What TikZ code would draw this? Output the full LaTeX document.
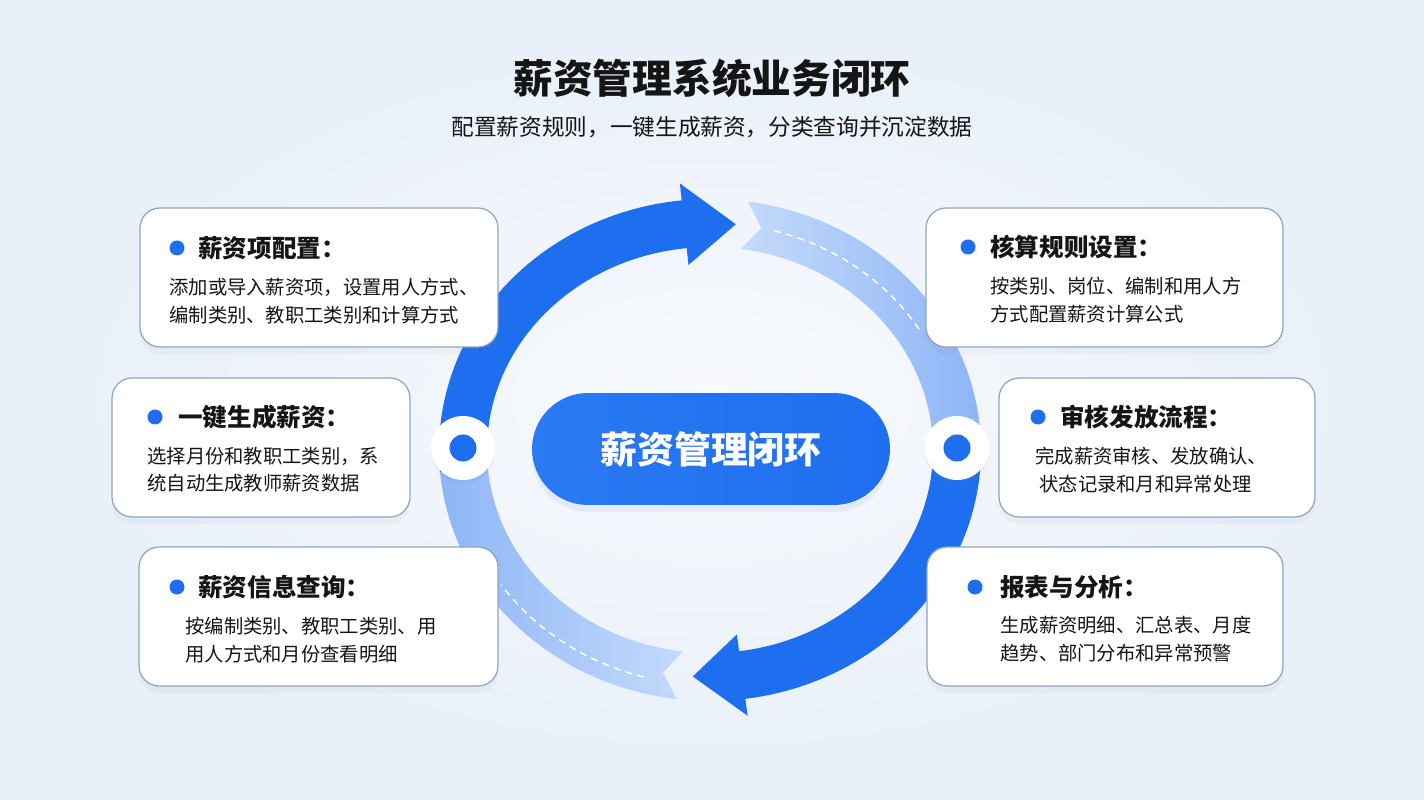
\documentclass[tikz,border=0pt]{standalone}
\usepackage{fontspec}
\setmainfont{Noto Sans CJK SC}
\usetikzlibrary{shadows}

\definecolor{mainBlue}{HTML}{1E6EF0}
\definecolor{pillLeft}{HTML}{2A7AF2}
\definecolor{lightTail}{HTML}{C4DAFA}
\definecolor{lightDeep}{HTML}{8DB5F6}
\definecolor{cardLine}{HTML}{8EA6BE}
\definecolor{bgEdge}{HTML}{E8EFF9}
\definecolor{bgMid}{HTML}{F8FAFD}
\definecolor{textDark}{HTML}{151515}

\begin{document}
\begin{tikzpicture}[x=0.02cm, y=-0.02cm,
    card/.style={draw=cardLine, line width=0.7pt, fill=white, rounded corners=0.4cm,
        minimum height=2.78cm, inner sep=0pt,
        drop shadow={opacity=0.06, shadow xshift=0pt, shadow yshift=-4pt}},
    pill/.style={rounded corners=1.12cm, minimum width=7.16cm, minimum height=2.24cm,
        left color=pillLeft, right color=mainBlue, text=white,
        font=\fontsize{21}{25}\selectfont\bfseries,
        drop shadow={fill=mainBlue, opacity=0.08, shadow xshift=0pt, shadow yshift=-4pt}},
    cardhead/.style={anchor=west, inner sep=0pt, text=textDark,
        font=\fontsize{14}{16}\selectfont\bfseries},
    cardbody/.style={anchor=west, align=left, inner sep=0pt, text=textDark,
        font=\fontsize{11}{15.6}\selectfont},
    dashline/.style={white, line width=0.8pt, dash pattern=on 4pt off 3pt}
]

    % Dimensions of the loop (pixels of the page)
    \def\cx{710}     % centre of the ring
    \def\cy{450}
    \def\rx{247}     % radii of the ring
    \def\ry{227}
    \def\hw{24}      % half width of the ring
    \def\hh{41}      % half height of an arrow head

    % Background
    \shade[inner color=bgMid, outer color=bgEdge] (0,0) rectangle (1424,800);
    \useasboundingbox (0,0) rectangle (1424,800);

    % Title and subtitle
    \node[font=\fontsize{22.6}{26}\selectfont\bfseries, text=textDark] (title) at (712,78) {薪资管理系统业务闭环};
    \node[font=\fontsize{12.9}{16}\selectfont, text=textDark] (subtitle) at (712,127) {配置薪资规则，一键生成薪资，分类查询并沉淀数据};

    % Light arc, top right (notched tail)
    \shade[left color=lightTail, right color=lightDeep]
        plot[domain=82:-4, samples=50] ({\cx+(\rx+\hw)*cos(\x)},{\cy-(\ry+\hw)*sin(\x)})
        -- plot[domain=-4:82, samples=50] ({\cx+(\rx-\hw)*cos(\x)},{\cy-(\ry-\hw)*sin(\x)})
        -- ({\cx+\rx*cos(78)},{\cy-\ry*sin(78)}) -- cycle;
    \draw[dashline] plot[domain=75:31, samples=40] ({\cx+\rx*cos(\x)},{\cy-\ry*sin(\x)});

    % Light arc, bottom left (notched tail)
    \shade[left color=lightDeep, right color=lightTail]
        plot[domain=263:176, samples=50] ({\cx+(\rx+\hw)*cos(\x)},{\cy-(\ry+\hw)*sin(\x)})
        -- plot[domain=176:263, samples=50] ({\cx+(\rx-\hw)*cos(\x)},{\cy-(\ry-\hw)*sin(\x)})
        -- ({\cx+\rx*cos(259)},{\cy-\ry*sin(259)}) -- cycle;
    \draw[dashline] plot[domain=255:215, samples=40] ({\cx+(\rx+8)*cos(\x)},{\cy-(\ry+8)*sin(\x)});

    % Dark arrow, left side up to the top
    \fill[mainBlue]
        plot[domain=185:96, samples=50] ({\cx+(\rx+\hw)*cos(\x)},{\cy-(\ry+\hw)*sin(\x)})
        -- ({\cx+(\rx+\hh)*cos(96)},{\cy-(\ry+\hh)*sin(96)})
        -- ({\cx+\rx*cos(84)},{\cy-\ry*sin(84)})
        -- ({\cx+(\rx-\hh)*cos(96)},{\cy-(\ry-\hh)*sin(96)})
        -- plot[domain=96:185, samples=50] ({\cx+(\rx-\hw)*cos(\x)},{\cy-(\ry-\hw)*sin(\x)})
        -- cycle;

    % Dark arrow, right side down to the bottom
    \fill[mainBlue]
        plot[domain=4:-82.5, samples=50] ({\cx+(\rx+\hw)*cos(\x)},{\cy-(\ry+\hw)*sin(\x)})
        -- ({\cx+(\rx+\hh)*cos(-82.5)},{\cy-(\ry+\hh)*sin(-82.5)})
        -- ({\cx+\rx*cos(-94)},{\cy-\ry*sin(-94)})
        -- ({\cx+(\rx-\hh)*cos(-82.5)},{\cy-(\ry-\hh)*sin(-82.5)})
        -- plot[domain=-82.5:4, samples=50] ({\cx+(\rx-\hw)*cos(\x)},{\cy-(\ry-\hw)*sin(\x)})
        -- cycle;

    % Joints on the ring
    \foreach \px in {463, 957} {
        \fill[white, drop shadow={opacity=0.08, shadow xshift=0pt, shadow yshift=-2pt}] (\px,448) circle (32);
        \fill[mainBlue] (\px,448) circle (13.5);
    }

    % Centre label
    \node[pill] (hub) at (711,449) {薪资管理闭环};

    % Cards on the left
    \node[card, minimum width=7.16cm] (itemCfg) at (319,277.5) {};
    \fill[mainBlue] (177,248) circle (7.5);
    \node[cardhead] (itemCfgHead) at (198,248) {薪资项配置：};
    \node[cardbody] (itemCfgText) at (169,301) {添加或导入薪资项，设置用人方式、\\编制类别、教职工类别和计算方式};

    \node[card, minimum width=5.96cm] (oneKey) at (261,447.5) {};
    \fill[mainBlue] (155,417) circle (7.5);
    \node[cardhead] (oneKeyHead) at (178,417) {一键生成薪资：};
    \node[cardbody] (oneKeyText) at (147,470) {选择月份和教职工类别，系\\统自动生成教师薪资数据};

    \node[card, minimum width=7.18cm] (query) at (318.5,616.5) {};
    \fill[mainBlue] (177,587) circle (7.5);
    \node[cardhead] (queryHead) at (198,587) {薪资信息查询：};
    \node[cardbody] (queryText) at (185,640) {按编制类别、教职工类别、用\\用人方式和月份查看明细};

    % Cards on the right
    \node[card, minimum width=7.14cm] (rules) at (1104.5,277.5) {};
    \fill[mainBlue] (968,247) circle (7.5);
    \node[cardhead] (rulesHead) at (990,247) {核算规则设置：};
    \node[cardbody] (rulesText) at (990,300) {按类别、岗位、编制和用人方\\方式配置薪资计算公式};

    \node[card, minimum width=6.32cm] (audit) at (1157,447.5) {};
    \fill[mainBlue] (1038,417) circle (7.5);
    \node[cardhead] (auditHead) at (1060,417) {审核发放流程：};
    \node[cardbody] (auditText) at (1035,470) {完成薪资审核、发放确认、\\\hspace*{0.08cm}状态记录和月和异常处理};

    \node[card, minimum width=7.12cm] (report) at (1105,616.5) {};
    \fill[mainBlue] (975,587) circle (7.5);
    \node[cardhead] (reportHead) at (1000,587) {报表与分析：};
    \node[cardbody] (reportText) at (1000,639) {生成薪资明细、汇总表、月度\\趋势、部门分布和异常预警};

\end{tikzpicture}
\end{document}
